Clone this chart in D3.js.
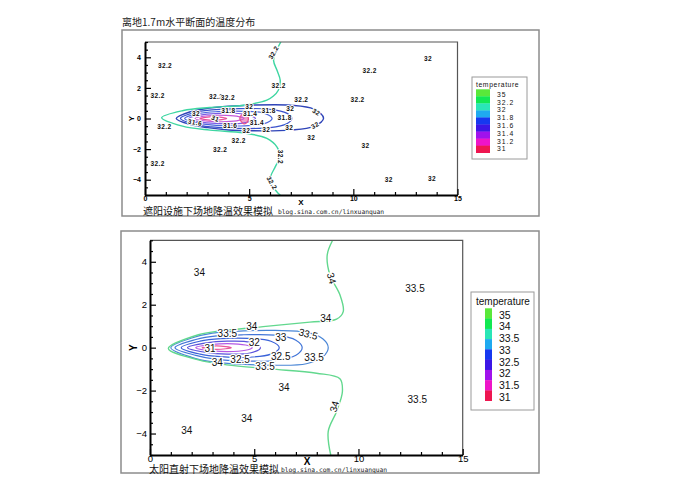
<!DOCTYPE html>
<html><head><meta charset="utf-8">
<script src="https://cdn.jsdelivr.net/npm/d3@7"></script>
<style>body{margin:0;background:#fff}</style>
</head><body>
<svg id="c" width="700" height="495"></svg>
<script>
// ---------- DATA ----------
const pageTitle = "离地1.7m水平断面的温度分布";
const captionTop = "遮阳设施下场地降温效果模拟";
const captionBottom = "太阳直射下场地降温效果模拟";
const blogText = "blog.sina.com.cn/linxuanquan";

const xMajor = [0, 5, 10, 15];
const xMinor = [1,2,3,4,6,7,8,9,11,12,13,14];
const yMajor = [-4, -2, 0, 2, 4];
const yMinor = [-4.5,-3.5,-2.5,-1.5,-0.5,0.5,1.5,2.5,3.5,4.5,-5,-3,-1,1,3,5];

const legendColors = ["#5ae83a","#12e852","#2ae6b6","#1faaf0","#1638f0","#3c16e6","#a012ec","#ee14c8","#ee1650"];
const topLegendLabels = ["35","32.2","32","31.8","31.6","31.4","31.2","31"];
const botLegendLabels = ["35","34","33.5","33","32.5","32","31.5","31"];

// top panel contours (open green 32.2 line + closed loops)
const topLine322 = [[6.52,5],[6.3,4.4],[6.17,3.8],[6.35,3.1],[6.49,2.5],[6.4,1.85],[6.15,1.45],[5.85,1.2],[4.73,0.87],[3.1,0.72],[1.84,0.52],[0.8,0.05],[1.8,-0.5],[3.12,-0.76],[4.73,-0.94],[5.85,-1.3],[6.33,-1.85],[6.49,-2.5],[6.25,-3.16],[6.0,-4.03],[6.4,-4.9],[6.5,-5]];
const top32   = [[1.5,0],[2.2,0.45],[3.0,0.66],[4.0,0.8],[5.05,0.87],[6.97,0.87],[8.1,0.62],[8.57,0.02],[8.1,-0.52],[6.97,-0.76],[5.05,-0.8],[4.0,-0.75],[3.0,-0.6],[2.2,-0.4]];
const top318  = [[1.7,0],[2.4,0.4],[3.2,0.56],[4.5,0.65],[6.0,0.6],[6.8,0.35],[7.05,0],[6.8,-0.35],[6.0,-0.6],[4.5,-0.65],[3.2,-0.55],[2.4,-0.38]];
const top316  = [[1.9,0],[2.6,0.33],[3.5,0.45],[4.8,0.47],[5.7,0.35],[6.1,0],[5.7,-0.35],[4.8,-0.48],[3.5,-0.45],[2.6,-0.32]];
const top314  = [[2.1,0],[2.8,0.25],[3.7,0.33],[4.7,0.3],[5.3,0],[4.7,-0.3],[3.7,-0.33],[2.8,-0.25]];
const top312  = [[2.4,0],[3.0,0.18],[3.9,0.2],[4.5,0.12],[4.75,0],[4.5,-0.12],[3.9,-0.2],[3.0,-0.18]];
const top31   = [[2.64,0],[3.3,0.12],[3.92,0],[3.3,-0.12]];
const top31b  = [[4.55,0],[4.7,0.3],[4.9,0.2],[4.95,-0.15],[4.75,-0.35]];

const topLabels = [
 [0.96,3.42,"32.2",0],[3.41,1.41,"32.2",0],[6.41,2.16,"32.2",0],[0.61,1.48,"32.2",0],
 [3.98,1.35,"32.2",0],[7.5,1.26,"32.2",0],[10.2,1.2,"32.2",0],[10.78,3.11,"32.2",0],
 [13.59,3.92,"32",0],[2.45,0.33,"32",0],[4.0,0.5,"31.8",0],[5.01,0.74,"32",0],
 [5.93,0.5,"31.8",0],[6.97,0.65,"32",0],[8.22,0.43,"32",30],[3.37,0,"31",20],
 [5.05,0.28,"31.4",0],[6.7,0.04,"31.8",0],[2.4,-0.26,"31.6",10],[4.09,-0.44,"31.6",0],
 [5.37,-0.29,"31.4",0],[4.86,-0.81,"32",0],[5.82,-0.72,"32",0],[6.92,-0.59,"32",0],
 [8.17,-0.44,"32",-30],[0.93,-0.55,"32.2",0],[4.49,-1.42,"32.2",0],[7.98,-1.27,"32",0],
 [3.61,-2.03,"32.2",0],[10.58,-1.75,"32",0],[0.61,-2.94,"32.2",0],[11.7,-4.03,"32",0],
 [13.78,-3.92,"32",0],[6.17,4.31,"32.2",-60],[6.49,-2.51,"32.2",90],[6.09,-4.21,"32.2",60]
];

// bottom panel contours
const botLine34 = [[8.76,5],[8.5,4.31],[8.63,3.39],[9.11,2.46],[9.27,1.68],[8.95,1.33],[7.67,1.19],[5.43,0.98],[3.36,0.78],[2.32,0.6],[0.88,-0.04],[2.32,-0.57],[3.68,-0.8],[5.76,-0.99],[7.99,-1.19],[9.11,-1.45],[9.23,-2.04],[8.95,-2.97],[8.55,-3.9],[8.67,-5]];
const bot335 = [[1.0,0],[2.0,0.45],[3.0,0.68],[4.5,0.78],[6.0,0.8],[7.5,0.72],[8.3,0.4],[8.55,0],[8.3,-0.42],[7.5,-0.75],[6.0,-0.82],[4.5,-0.78],[3.0,-0.66],[2.0,-0.45]];
const bot33  = [[1.2,0],[2.2,0.38],[3.2,0.55],[4.5,0.6],[6.0,0.58],[7.0,0.35],[7.3,0],[7.0,-0.35],[6.0,-0.6],[4.5,-0.62],[3.2,-0.55],[2.2,-0.36]];
const bot325 = [[1.5,0],[2.4,0.3],[3.4,0.42],[4.7,0.43],[5.8,0.3],[6.2,0],[5.8,-0.3],[4.7,-0.45],[3.4,-0.42],[2.4,-0.3]];
const bot32  = [[1.8,0],[2.7,0.22],[3.7,0.3],[4.8,0.25],[5.3,0],[4.8,-0.25],[3.7,-0.3],[2.7,-0.22]];
const bot315 = [[2.2,0],[3.0,0.15],[4.0,0.18],[4.7,0.1],[4.9,0],[4.7,-0.1],[4.0,-0.18],[3.0,-0.15]];
const bot31  = [[2.5,0],[3.2,0.08],[3.9,0],[3.2,-0.08]];

const botLabels = [
 [2.37,3.49,"34",0],[8.71,3.23,"34",75],[12.71,2.77,"33.5",0],[8.43,1.34,"34",0],
 [4.88,0.98,"34",0],[3.71,0.64,"33.5",0],[6.27,0.49,"33",0],[7.59,0.63,"33.5",15],
 [5.0,0.24,"32",0],[2.88,-0.06,"31",0],[7.87,-0.46,"33.5",0],[6.27,-0.41,"32.5",0],
 [4.32,-0.54,"32.5",0],[3.23,-0.68,"34",0],[5.52,-0.88,"33.5",0],[6.43,-1.84,"34",0],
 [12.82,-2.4,"33.5",0],[8.84,-2.74,"34",-75],[4.64,-3.28,"34",0],[1.76,-3.86,"34",0]
];

// ---------- DRAW ----------
const svg = d3.select("#c");
const CJK = "'Noto Sans CJK SC', sans-serif";

svg.append("text").attr("x",122).attr("y",26).attr("font-family",CJK)
  .attr("font-size",10).attr("fill","#222").text(pageTitle);

function panel(p){
  const g = svg.append("g");
  const x = d3.scaleLinear().domain([0,15]).range([p.left,p.right]);
  const y = d3.scaleLinear().domain([-5,5]).range([p.bottom,p.top]);

  g.append("rect").attr("x",p.fx).attr("y",p.fy).attr("width",p.fw).attr("height",p.fh)
    .attr("fill","none").attr("stroke","#8c8c8c").attr("stroke-width",1.5);

  const cid = "clip"+p.id;
  g.append("clipPath").attr("id",cid).append("rect")
    .attr("x",p.left).attr("y",p.top).attr("width",p.right-p.left).attr("height",p.bottom-p.top);

  const cg = g.append("g").attr("clip-path",`url(#${cid})`);
  const open = d3.line().x(d=>x(d[0])).y(d=>y(d[1])).curve(d3.curveCatmullRom);
  const closed = d3.line().x(d=>x(d[0])).y(d=>y(d[1])).curve(d3.curveCatmullRomClosed);

  p.fills.forEach(f=>{
    cg.append("path").attr("d",closed(f.pts)).attr("fill",f.color).attr("stroke","none");
  });
  p.loops.forEach(l=>{
    cg.append("path").attr("d",closed(l.pts)).attr("fill","none")
      .attr("stroke",l.color).attr("stroke-width",l.w||1.2);
  });
  cg.append("path").attr("d",open(p.line)).attr("fill","none")
    .attr("stroke",p.lineColor).attr("stroke-width",1.4);

  // labels
  const lab = cg.append("g").attr("font-family",p.labFont).attr("font-size",p.labSize)
    .attr("font-weight",p.labWeight).attr("fill","#111").attr("text-anchor","middle");
  p.labels.forEach(d=>{
    lab.append("text")
      .attr("transform",`translate(${x(d[0])},${y(d[1])}) rotate(${d[3]})`)
      .attr("dy","0.35em")
      .attr("stroke","#fff").attr("stroke-width",p.halo).attr("paint-order","stroke")
      .attr("letter-spacing",p.labLS)
      .text(d[2]);
  });

  // plot border (top/right)
  g.append("path").attr("d",`M${p.left},${p.top}H${p.right}V${p.bottom}`)
    .attr("fill","none").attr("stroke","#555").attr("stroke-width",1.2);

  // axes
  const ax = g.append("g").attr("transform",`translate(0,${p.bottom})`)
    .call(d3.axisBottom(x).tickValues(xMajor).tickSize(-6).tickSizeOuter(0).tickPadding(p.tickPadX).tickFormat(d3.format("d")));
  g.append("g").attr("transform",`translate(0,${p.bottom})`)
    .call(d3.axisBottom(x).tickValues(xMinor).tickSize(-3).tickSizeOuter(0).tickFormat(""))
    .select(".domain").remove();
  const ay = g.append("g").attr("transform",`translate(${p.left},0)`)
    .call(d3.axisLeft(y).tickValues(yMajor).tickSize(-6).tickSizeOuter(0).tickPadding(p.tickPadY).tickFormat(d3.format("d")));
  g.append("g").attr("transform",`translate(${p.left},0)`)
    .call(d3.axisLeft(y).tickValues(yMinor).tickSize(-3).tickSizeOuter(0).tickFormat(""))
    .select(".domain").remove();
  g.selectAll(".domain").attr("stroke","#000").attr("stroke-width",2);
  g.selectAll(".tick line").attr("stroke","#000").attr("stroke-width",1.2);
  [ax,ay].forEach(a=>a.selectAll("text").attr("font-family",p.axFont).attr("font-size",p.axSize)
      .attr("font-weight",p.axWeight).attr("fill","#000"));

  g.append("text").attr("x",p.xLabX).attr("y",p.xLabY).attr("text-anchor","middle")
    .attr("font-family","'Liberation Sans',Arial").attr("font-weight","bold").attr("font-size",p.xySize).text("X");
  g.append("text").attr("transform",`translate(${p.yLabX},${(p.top+p.bottom)/2}) rotate(-90)`)
    .attr("text-anchor","middle").attr("dy","0.35em")
    .attr("font-family","'Liberation Sans',Arial").attr("font-weight","bold").attr("font-size",p.xySize).text("Y");

  // captions
  g.append("text").attr("x",p.capX).attr("y",p.capY).attr("font-family",CJK)
    .attr("font-size",p.capSize).attr("fill","#111").text(p.caption);
  g.append("text").attr("x",p.blogX).attr("y",p.capY-1).attr("font-family","'DejaVu Sans Mono',monospace")
    .attr("font-size",6.3).attr("fill","#222").text(blogText);

  // legend
  const L = p.leg;
  g.append("rect").attr("x",L.x).attr("y",L.y).attr("width",L.w).attr("height",L.h)
    .attr("fill","#fff").attr("stroke","#9a9a9a").attr("stroke-width",1);
  g.append("text").attr("x",L.tx).attr("y",L.ty).attr("font-family","'Liberation Sans',Arial")
    .attr("font-size",L.tSize).attr("letter-spacing",L.tLS).attr("fill","#111").text("temperature");
  const sw = d3.scaleBand().domain(d3.range(legendColors.length)).range([L.sy0,L.sy1]).padding(0);
  g.selectAll(null).data(legendColors).enter().append("rect")
    .attr("x",L.sx).attr("width",L.sw).attr("y",(d,i)=>sw(i)).attr("height",sw.bandwidth()+0.3)
    .attr("fill",d=>d);
  const ly = d3.scalePoint().domain(L.labels).range([L.ly0,L.ly1]);
  g.selectAll(null).data(L.labels).enter().append("text")
    .attr("x",L.lx).attr("y",d=>ly(d)).attr("dy","0.35em")
    .attr("font-family","'Liberation Sans',Arial").attr("font-size",L.lSize).attr("letter-spacing",L.lLS)
    .attr("fill","#111").text(d=>d);
}

panel({
  id:"t", left:145, right:457.5, top:42, bottom:195,
  fx:122, fy:30, fw:417, fh:186,
  line: topLine322, lineColor:"#3ed6a2",
  fills: [{pts: top31b, color:"#f2a0c8"}],
  loops: [
    {pts: top32, color:"#2f44b8", w:1.4},
    {pts: top318, color:"#3a52cc"},
    {pts: top316, color:"#4a66dc"},
    {pts: top314, color:"#7a5ae4"},
    {pts: top312, color:"#c45ad8"},
    {pts: top31, color:"#e8509a"},
    {pts: top31b, color:"#e8508a"}
  ],
  labels: topLabels, labFont:"'Liberation Sans',Arial", labSize:6.5, labWeight:"bold", labLS:0.4, halo:2,
  axFont:"'Liberation Sans',Arial", axSize:7, axWeight:"bold", tickPadX:1, tickPadY:4,
  xLabX:301, xLabY:205, yLabX:131, xySize:8,
  caption: captionTop, capX:143, capY:214.5, capSize:10, blogX:278,
  leg:{x:472,y:77,w:55,h:82, tx:476, ty:87, tSize:6.8, tLS:0.6,
       sx:476, sw:14, sy0:89.3, sy1:152.7, labels: topLegendLabels, ly0:94.5, ly1:149,
       lx:497, lSize:6.8, lLS:1}
});

panel({
  id:"b", left:150, right:462.7, top:240.3, bottom:455,
  fx:121, fy:231, fw:418, fh:242,
  line: botLine34, lineColor:"#62d88e",
  fills: [],
  loops: [
    {pts: bot335, color:"#4a86d6"},
    {pts: bot33, color:"#4276d8"},
    {pts: bot325, color:"#3a62d8"},
    {pts: bot32, color:"#5a52dc"},
    {pts: bot315, color:"#b458e4"},
    {pts: bot31, color:"#e8589c"}
  ],
  labels: botLabels, labFont:"'Liberation Sans',Arial", labSize:10, labWeight:"normal", labLS:0, halo:2.5,
  axFont:"'Liberation Sans',Arial", axSize:9.5, axWeight:"normal", tickPadX:0, tickPadY:3,
  xLabX:307, xLabY:465, yLabX:133, xySize:10,
  caption: captionBottom, capX:149, capY:472.5, capSize:10, blogX:281,
  leg:{x:471,y:292,w:63,h:118, tx:476, ty:305, tSize:10, tLS:0,
       sx:485, sw:7, sy0:308.3, sy1:400.7, labels: botLegendLabels, ly0:315, ly1:397,
       lx:499, lSize:10.5, lLS:0}
});
</script></body></html>
